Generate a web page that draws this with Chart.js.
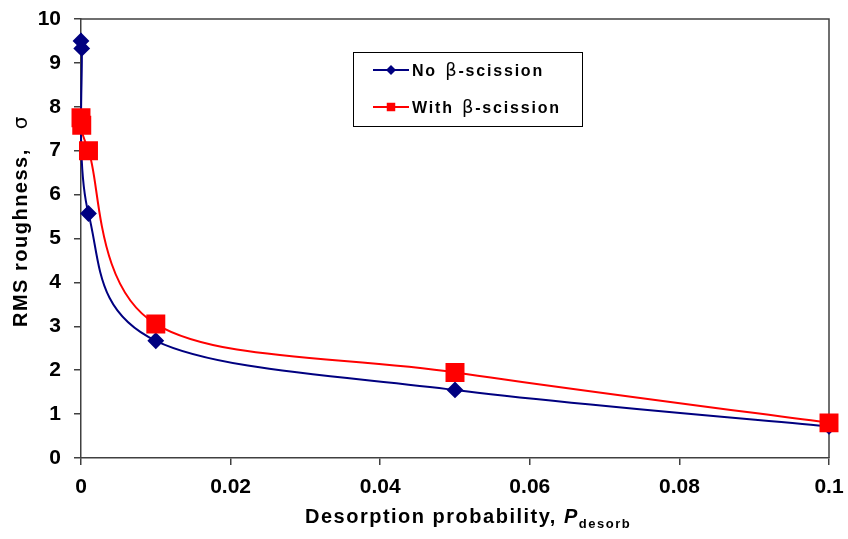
<!DOCTYPE html>
<html>
<head>
<meta charset="utf-8">
<script src="https://cdn.jsdelivr.net/npm/chart.js@4.4.0/dist/chart.umd.min.js"></script>
<style>
body { margin: 0; background: #fff; }
#wrap { width: 848px; height: 539px; position: relative; }
</style>
</head>
<body>
<div id="wrap"><canvas id="roughness"></canvas></div>
<script>
// desorption probability on x, RMS roughness on y
const desorbProb = [0, 0.0001, 0.001, 0.01, 0.05, 0.1];
const noScission = [9.5, 9.33, 5.57, 2.67, 1.55, 0.72];
const withScission = [7.75, 7.58, 7.0, 3.05, 1.95, 0.8];
const seriesLabels = ["No β-scission", "With β-scission"];
const xTickLabels = ["0", "0.02", "0.04", "0.06", "0.08", "0.1"];
const yTickLabels = ["0", "1", "2", "3", "4", "5", "6", "7", "8", "9", "10"];

const NAVY = "#000080";
const RED = "#ff0000";
const AXIS = "#404040";
const FONT = "'Liberation Sans', Arial, sans-serif";

function toPoints(ys) {
	return ys.map((y, i) => ({x: desorbProb[i], y: y}));
}

// draws a list of text pieces one after another, returns the width used
function drawRuns(ctx, runs, x, y, spacing) {
	ctx.save();
	ctx.letterSpacing = spacing + "px";
	ctx.textBaseline = "alphabetic";
	ctx.textAlign = "left";
	ctx.fillStyle = "#000";
	let cx = x;
	runs.forEach(r => {
		ctx.font = r.font;
		cx += r.dx || 0;
		ctx.fillText(r.text, cx, y + (r.dy || 0));
		cx += ctx.measureText(r.text).width;
	});
	ctx.restore();
	return cx - x;
}

// split a label so the greek letter gets its own font
function labelRuns(text) {
	const parts = text.split("β");
	const runs = [];
	parts.forEach((p, i) => {
		if (i > 0) runs.push({text: "β", font: "18px 'DejaVu Sans', sans-serif", dx: 2});
		if (p) runs.push({text: p, font: "bold 16px " + FONT});
	});
	return runs;
}

// spreadsheet style smoothing: tangent at each point = (next - prev) / 6
const smoothPlugin = {
	id: "smooth",
	beforeDatasetDraw(chart, args) {
		const line = args.meta.dataset;
		const pts = args.meta.data;
		if (typeof line.updateControlPoints === "function") {
			line.updateControlPoints(chart.chartArea, "x");
		}
		for (let i = 0; i < pts.length; i++) {
			const prev = pts[Math.max(i - 1, 0)];
			const next = pts[Math.min(i + 1, pts.length - 1)];
			const dx = (next.x - prev.x) / 6;
			const dy = (next.y - prev.y) / 6;
			pts[i].cp1x = pts[i].x - dx;
			pts[i].cp1y = pts[i].y - dy;
			pts[i].cp2x = pts[i].x + dx;
			pts[i].cp2y = pts[i].y + dy;
		}
		line._pointsUpdated = true;
		line._path = undefined;
	}
};

const framePlugin = {
	id: "frame",
	beforeDatasetsDraw(chart) {
		const {ctx, chartArea: a} = chart;
		ctx.save();
		ctx.strokeStyle = AXIS;
		ctx.lineWidth = 1.5;
		ctx.beginPath();
		ctx.moveTo(a.left, a.top);
		ctx.lineTo(a.right, a.top);
		ctx.lineTo(a.right, a.bottom);
		ctx.stroke();
		ctx.restore();
	}
};

const titlesPlugin = {
	id: "titles",
	afterDraw(chart) {
		const {ctx, chartArea: a} = chart;
		// x axis title with subscript
		drawRuns(ctx, [
			{text: "Desorption probability, ", font: "bold 20px " + FONT},
			{text: "P", font: "italic bold 20px " + FONT},
			{text: "desorb", font: "bold 13px " + FONT, dy: 5}
		], a.left + 224, 523, 1.5);

		// y axis title, rotated
		ctx.save();
		ctx.translate(27, 327);
		ctx.rotate(-Math.PI / 2);
		drawRuns(ctx, [
			{text: "RMS roughness,", font: "bold 20px " + FONT},
			{text: "σ", font: "20px 'DejaVu Sans', sans-serif", dx: 19}
		], 0, 0, 1.5);
		ctx.restore();
	}
};

const legendPlugin = {
	id: "boxLegend",
	afterDraw(chart) {
		const ctx = chart.ctx;
		const bx = 353, by = 52, bw = 229, bh = 74;
		ctx.save();
		ctx.fillStyle = "#fff";
		ctx.fillRect(bx, by, bw, bh);
		ctx.strokeStyle = "#000";
		ctx.lineWidth = 1;
		ctx.strokeRect(bx + 0.5, by + 0.5, bw, bh);
		chart.data.datasets.forEach((ds, i) => {
			const y = by + 18 + i * 37;
			ctx.strokeStyle = ds.borderColor;
			ctx.lineWidth = 2;
			ctx.beginPath();
			ctx.moveTo(bx + 20, y);
			ctx.lineTo(bx + 56, y);
			ctx.stroke();
			ctx.fillStyle = ds.pointBackgroundColor;
			Chart.helpers.drawPoint(ctx, {
				pointStyle: ds.pointStyle,
				radius: ds.pointStyle === "rect" ? 6 : 5,
				rotation: 0,
				borderWidth: 0
			}, bx + 38, y);
			drawRuns(ctx, labelRuns(ds.label), bx + 59, y + 6, 1.8);
		});
		ctx.restore();
	}
};

const tickFont = {family: FONT, weight: "bold", size: 21};

new Chart(document.getElementById("roughness"), {
	type: "line",
	data: {
		datasets: [{
			label: seriesLabels[0],
			data: toPoints(noScission),
			borderColor: NAVY,
			backgroundColor: NAVY,
			pointBackgroundColor: NAVY,
			pointBorderColor: NAVY,
			pointStyle: "rectRot",
			pointRadius: 7,
			borderWidth: 2,
			tension: 0.4,
			clip: false,
			order: 1
		}, {
			label: seriesLabels[1],
			data: toPoints(withScission),
			borderColor: RED,
			backgroundColor: RED,
			pointBackgroundColor: RED,
			pointBorderColor: RED,
			pointStyle: "rect",
			pointRadius: 12,
			borderWidth: 2,
			tension: 0.4,
			clip: false,
			order: 0
		}]
	},
	options: {
		responsive: true,
		maintainAspectRatio: false,
		animation: false,
		layout: {padding: {top: 19, right: 19, left: 0, bottom: 0}},
		plugins: {
			legend: {display: false},
			tooltip: {enabled: false}
		},
		scales: {
			x: {
				type: "linear",
				min: 0,
				max: 0.1,
				grid: {drawOnChartArea: false, drawTicks: true, tickLength: 7, color: AXIS, lineWidth: 1.5},
				border: {color: AXIS, width: 1.5},
				ticks: {
					stepSize: 0.02,
					color: "#000",
					font: tickFont,
					padding: 10,
					maxRotation: 0,
					callback: (v, i) => xTickLabels[i]
				},
				afterFit(scale) {
					scale.height = 81;
					scale.paddingLeft = 0;
					scale.paddingRight = 0;
				}
			},
			y: {
				min: 0,
				max: 10,
				grid: {drawOnChartArea: false, drawTicks: true, tickLength: 7, color: AXIS, lineWidth: 1.5},
				border: {color: AXIS, width: 1.5},
				ticks: {
					stepSize: 1,
					color: "#000",
					font: tickFont,
					padding: 13,
					callback: (v, i) => yTickLabels[i]
				},
				afterFit(scale) {
					scale.width = 81;
					scale.paddingTop = 0;
					scale.paddingBottom = 0;
				}
			}
		}
	},
	plugins: [smoothPlugin, framePlugin, titlesPlugin, legendPlugin]
});
</script>
</body>
</html>
